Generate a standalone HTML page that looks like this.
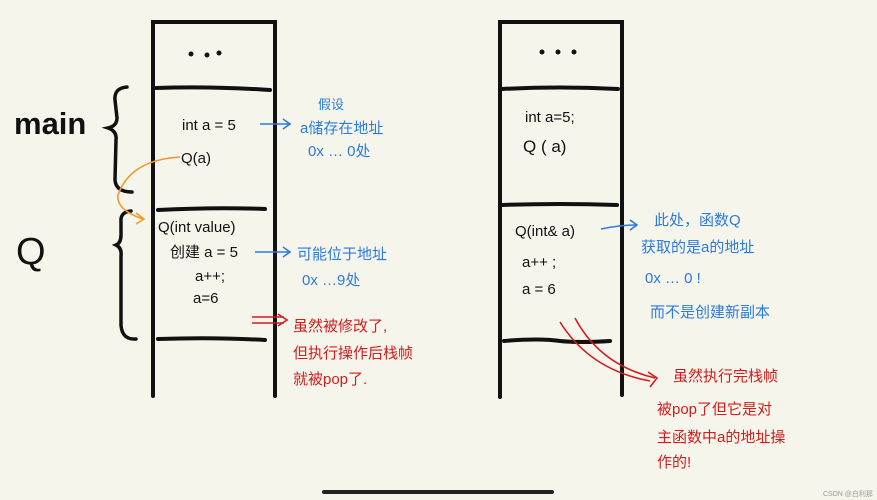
<!DOCTYPE html>
<html><head><meta charset="utf-8"><style>
html,body{margin:0;padding:0;background:#f6f5ec;}
svg{display:block}
text{font-family:"Liberation Sans","Noto Sans CJK SC",sans-serif;}
.k{fill:#111;font-size:15px}
.b{fill:#2a7be0;font-size:15px}
.r{fill:#d41c1c;font-size:15px}
</style></head><body>
<svg width="877" height="500" viewBox="0 0 877 500" xmlns="http://www.w3.org/2000/svg">
<rect width="877" height="500" fill="#f6f5ec"/>
<g stroke="#111" stroke-width="4" fill="none" stroke-linecap="round">
<!-- left stack -->
<path d="M153 396 V22 H275 V396"/>
<path d="M156 88 Q210 86 270 90"/>
<path d="M158 210 Q215 207 265 209"/>
<path d="M158 339 Q215 337 265 340"/>
<!-- right stack -->
<path d="M500 397 V22 H622 V395"/>
<path d="M502 89 Q560 86 618 89"/>
<path d="M502 205 Q560 203 617 205"/>
<path d="M504 341 Q540 338 560 341 Q580 343 610 341"/>
</g>
<g fill="#111">
<circle cx="191" cy="54" r="2.5"/><circle cx="207" cy="55" r="2.5"/><circle cx="219" cy="53" r="2.5"/>
<circle cx="542" cy="52" r="2.5"/><circle cx="558" cy="52" r="2.5"/><circle cx="574" cy="52" r="2.5"/>
</g>
<!-- braces -->
<g stroke="#111" stroke-width="3.5" fill="none" stroke-linecap="round">
<path d="M127 87 Q114 88 115 100 L117 118 Q117 126 108 128 Q117 131 116 140 L115 180 Q116 192 132 192"/>
<path d="M131 211 Q120 212 121 222 L121 235 Q121 243 116 245 Q122 248 121 256 L121 325 Q122 340 136 339"/>
</g>
<text x="14" y="134" style="font-size:31px;font-weight:bold;fill:#111">main</text>
<text x="16" y="264" style="font-size:38px;fill:#111">Q</text>
<!-- left text -->
<text class="k" x="182" y="130">int a = 5</text>
<text class="k" x="181" y="163">Q(a)</text>
<text class="k" x="158" y="232">Q(int value)</text>
<text class="k" x="170" y="257">创建 a = 5</text>
<text class="k" x="195" y="281">a++;</text>
<text class="k" x="193" y="303">a=6</text>
<!-- orange curve -->
<g stroke="#f09a2a" stroke-width="1.6" fill="none">
<path d="M180 157 Q130 160 118 195 Q116 210 143 219"/>
<path d="M136 213 L144 219 L136 224"/>
</g>
<!-- blue arrows left -->
<g stroke="#2a7be0" stroke-width="1.6" fill="none">
<path d="M260 124 H290 M283 119 L290 124 L283 129"/>
<path d="M255 252 H290 M283 247 L290 252 L283 257"/>
<path d="M601 229 Q620 225 637 225 M630 220 L637 225 L630 230"/>
</g>
<text class="b" x="318" y="109" style="font-size:13px">假设</text>
<text class="b" x="300" y="133">a储存在地址</text>
<text class="b" x="308" y="156">0x … 0处</text>
<text class="b" x="297" y="259">可能位于地址</text>
<text class="b" x="302" y="285">0x …9处</text>
<!-- red left -->
<g stroke="#d41c1c" stroke-width="1.6" fill="none">
<path d="M252 317 H284 M252 323 H284 M278 314 L287 320 L278 326"/>
<path d="M560 322 Q590 370 650 381 M575 318 Q600 365 655 378 M648 372 L657 378 L650 387"/>
</g>
<text class="r" x="293" y="331">虽然被修改了,</text>
<text class="r" x="293" y="358">但执行操作后栈帧</text>
<text class="r" x="293" y="384">就被pop了.</text>
<!-- right text -->
<text class="k" x="525" y="122">int a=5;</text>
<text class="k" x="523" y="152" style="font-size:17px">Q ( a)</text>
<text class="k" x="515" y="236">Q(int&amp; a)</text>
<text class="k" x="522" y="267">a++ ;</text>
<text class="k" x="522" y="294">a = 6</text>
<text class="b" x="654" y="225">此处，函数Q</text>
<text class="b" x="641" y="252">获取的是a的地址</text>
<text class="b" x="645" y="283">0x … 0 !</text>
<text class="b" x="650" y="317">而不是创建新副本</text>
<text class="r" x="673" y="381">虽然执行完栈帧</text>
<text class="r" x="657" y="414">被pop了但它是对</text>
<text class="r" x="657" y="442">主函数中a的地址操</text>
<text class="r" x="657" y="467">作的!</text>
<rect x="322" y="490" width="232" height="4" rx="2" fill="#222"/>
<text x="823" y="496" style="font-size:7px;fill:#999">CSDN @白利那</text>
</svg>
</body></html>
